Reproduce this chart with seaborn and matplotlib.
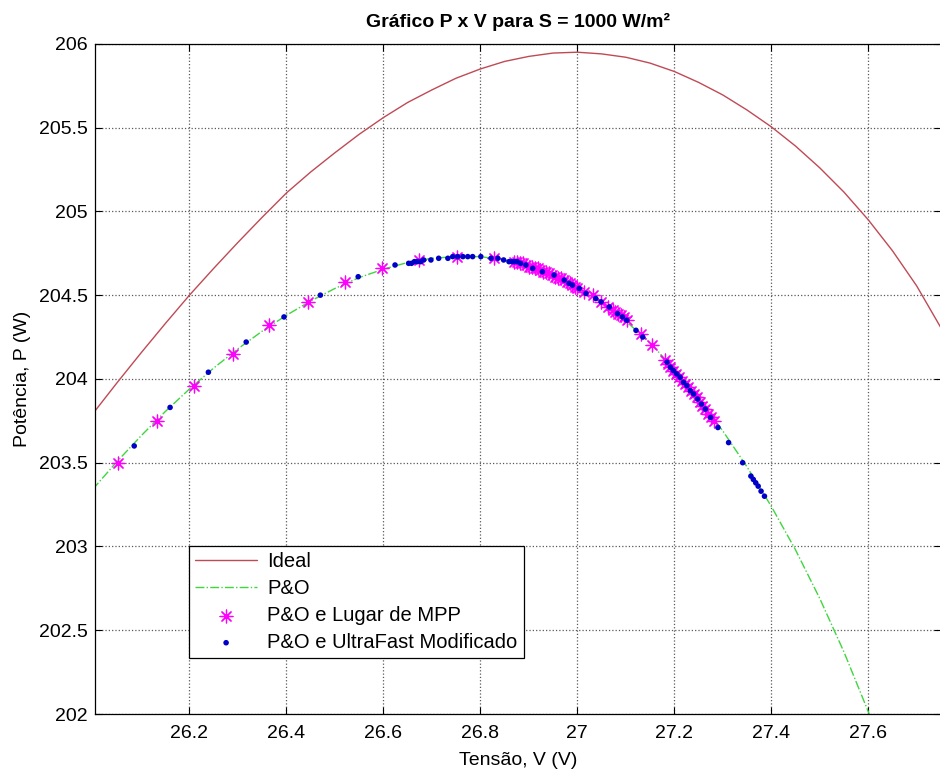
import numpy as np
import pandas as pd
import matplotlib
matplotlib.use("Agg")
import matplotlib.pyplot as plt
import seaborn as sns

# curva ideal (vermelha)
ideal_v = [26.00, 26.05, 26.10, 26.15, 26.20, 26.25, 26.30, 26.35, 26.40, 26.45,
           26.50, 26.55, 26.60, 26.65, 26.70, 26.75, 26.80, 26.85, 26.90, 26.95,
           27.00, 27.05, 27.10, 27.15, 27.20, 27.25, 27.30, 27.35, 27.40, 27.45,
           27.50, 27.55, 27.60, 27.65, 27.70, 27.75]
ideal_p = [203.790, 203.975, 204.155, 204.330, 204.500, 204.660, 204.815, 204.965, 205.110, 205.235,
           205.350, 205.460, 205.560, 205.650, 205.725, 205.795, 205.850, 205.895, 205.925, 205.945,
           205.950, 205.940, 205.920, 205.885, 205.835, 205.770, 205.695, 205.605, 205.505, 205.390,
           205.260, 205.115, 204.950, 204.765, 204.555, 204.305]

# curva P&O (verde)
po_v = [26.00, 26.05, 26.10, 26.15, 26.20, 26.25, 26.30, 26.35, 26.40, 26.45,
        26.50, 26.55, 26.60, 26.65, 26.70, 26.75, 26.80, 26.85, 26.90, 26.95,
        27.00, 27.05, 27.10, 27.15, 27.20, 27.25, 27.30, 27.35, 27.40, 27.45,
        27.50, 27.55, 27.60, 27.65]
po_p = [203.340, 203.505, 203.660, 203.805, 203.940, 204.065, 204.180, 204.285, 204.380, 204.465,
        204.540, 204.605, 204.655, 204.695, 204.720, 204.730, 204.730, 204.710, 204.670, 204.615,
        204.545, 204.455, 204.345, 204.215, 204.060, 203.885, 203.690, 203.475, 203.240, 202.980,
        202.690, 202.370, 202.015, 201.630]

# P&O e Lugar de MPP (asteriscos)
mpp_v = [26.053, 26.132, 26.210, 26.289, 26.365, 26.444, 26.520, 26.598, 26.673, 26.751, 26.828,
         26.870, 26.876, 26.882, 26.888, 26.894, 26.900, 26.906, 26.912, 26.918, 26.924,
         26.930, 26.936, 26.942, 26.948, 26.954, 26.960, 26.966, 26.972, 26.978, 26.984,
         26.990, 26.995, 27.000,
         27.013, 27.032, 27.049, 27.063, 27.073,
         27.078, 27.084, 27.090, 27.096, 27.102, 27.131, 27.154,
         27.180, 27.186, 27.192, 27.198, 27.204, 27.210, 27.216, 27.222, 27.228, 27.234,
         27.240, 27.246, 27.252, 27.258, 27.264, 27.270, 27.276, 27.282]
mpp_p = [203.50, 203.75, 203.96, 204.15, 204.32, 204.46, 204.58, 204.66, 204.71, 204.73, 204.72,
         204.70, 204.70, 204.69, 204.69, 204.68, 204.67, 204.67, 204.66, 204.66, 204.65,
         204.64, 204.64, 204.63, 204.62, 204.61, 204.60, 204.60, 204.59, 204.58, 204.57,
         204.56, 204.55, 204.54,
         204.52, 204.50, 204.46, 204.43, 204.41,
         204.40, 204.39, 204.38, 204.37, 204.35, 204.27, 204.20,
         204.11, 204.09, 204.07, 204.05, 204.03, 204.01, 203.99, 203.97, 203.95, 203.93,
         203.91, 203.89, 203.86, 203.84, 203.82, 203.79, 203.77, 203.75]

# P&O e UltraFast Modificado (pontos)
uf_v = [26.086, 26.160, 26.239, 26.317, 26.395, 26.470, 26.548, 26.624,
        26.652, 26.658, 26.664, 26.670, 26.677, 26.683,
        26.698, 26.714, 26.733, 26.743, 26.753, 26.764, 26.774, 26.784, 26.801, 26.822,
        26.836, 26.848, 26.859, 26.865, 26.870, 26.876, 26.883,
        26.894, 26.908, 26.928, 26.952, 26.973, 26.983, 26.990, 27.004, 27.018, 27.038,
        27.049, 27.066, 27.083, 27.093, 27.102, 27.121, 27.135,
        27.185, 27.192, 27.198, 27.205, 27.212, 27.219, 27.226, 27.233, 27.240, 27.248,
        27.256, 27.264, 27.275, 27.290,
        27.312, 27.341, 27.358, 27.363, 27.368, 27.373, 27.379, 27.386]
uf_p = [203.60, 203.83, 204.04, 204.22, 204.37, 204.50, 204.61, 204.68,
        204.69, 204.69, 204.70, 204.70, 204.70, 204.71,
        204.71, 204.72, 204.72, 204.73, 204.73, 204.73, 204.73, 204.73, 204.73, 204.72,
        204.72, 204.71, 204.70, 204.70, 204.70, 204.70, 204.69,
        204.68, 204.66, 204.64, 204.62, 204.59, 204.57, 204.56, 204.54, 204.51, 204.48,
        204.46, 204.43, 204.39, 204.37, 204.35, 204.29, 204.25,
        204.10, 204.07, 204.05, 204.03, 204.01, 203.98, 203.96, 203.93, 203.91, 203.88,
        203.85, 203.82, 203.77, 203.71,
        203.62, 203.50, 203.42, 203.40, 203.38, 203.36, 203.33, 203.30]

x_ticks = [26.2, 26.4, 26.6, 26.8, 27.0, 27.2, 27.4, 27.6]
x_labels = ["26.2", "26.4", "26.6", "26.8", "27", "27.2", "27.4", "27.6"]
y_ticks = [202, 202.5, 203, 203.5, 204, 204.5, 205, 205.5, 206]
y_labels = ["202", "202.5", "203", "203.5", "204", "204.5", "205", "205.5", "206"]

sns.set_theme(style="white")
plt.rcParams["font.family"] = ["Liberation Sans", "DejaVu Sans"]
plt.rcParams["text.color"] = "black"
plt.rcParams["axes.labelcolor"] = "black"

fig = plt.figure(figsize=(9.4, 7.69), dpi=100)
ax = fig.add_axes([0.101, 0.0715, 0.9, 0.8715])

sns.lineplot(x=ideal_v, y=ideal_p, color="#bf4a55", linewidth=1.0, estimator=None,
             label="Ideal", ax=ax)
sns.lineplot(x=po_v, y=po_p, color="#3fd63f", linewidth=1.0, linestyle="-.", estimator=None,
             label="P&O", ax=ax)
sns.scatterplot(x=mpp_v, y=mpp_p, marker=(8, 2, 0), s=85, color="#ff00ff", linewidths=0.9,
                label="P&O e Lugar de MPP", ax=ax, zorder=3)
sns.scatterplot(x=uf_v, y=uf_p, marker="o", s=16, color="#0000c8", edgecolor="none",
                label="P&O e UltraFast Modificado", ax=ax, zorder=4)

ax.set_xlim(26.005, 27.75)
ax.set_ylim(202, 206)
ax.set_xticks(x_ticks)
ax.set_xticklabels(x_labels)
ax.set_yticks(y_ticks)
ax.set_yticklabels(y_labels)
ax.tick_params(direction="in", length=5, width=0.8, color="black", labelsize=14,
               top=True, right=True, bottom=True, left=True, labelcolor="black")
ax.tick_params(axis="x", pad=8)
ax.tick_params(axis="y", pad=5)
ax.grid(True, linestyle=":", color="0.35", linewidth=0.9)
for sp in ax.spines.values():
    sp.set_color("black")
    sp.set_linewidth(0.9)

ax.set_title("Gráfico P x V para S = 1000 W/m²", fontsize=14, fontweight="bold", pad=12,
             color="black")
ax.set_xlabel("Tensão, V (V)", fontsize=14, labelpad=7)
ax.set_ylabel("Potência, P (W)", fontsize=14, labelpad=6)

leg = ax.legend(loc="lower left", bbox_to_anchor=(0.111, 0.0835), fontsize=14.5,
                frameon=True, fancybox=False, edgecolor="black", framealpha=1,
                handlelength=3.1, handletextpad=0.5, labelspacing=0.4,
                borderaxespad=0, borderpad=0.3)
leg.get_frame().set_linewidth(0.9)
for t in leg.get_texts():
    t.set_color("black")

fig.savefig("out.png", dpi=100)
